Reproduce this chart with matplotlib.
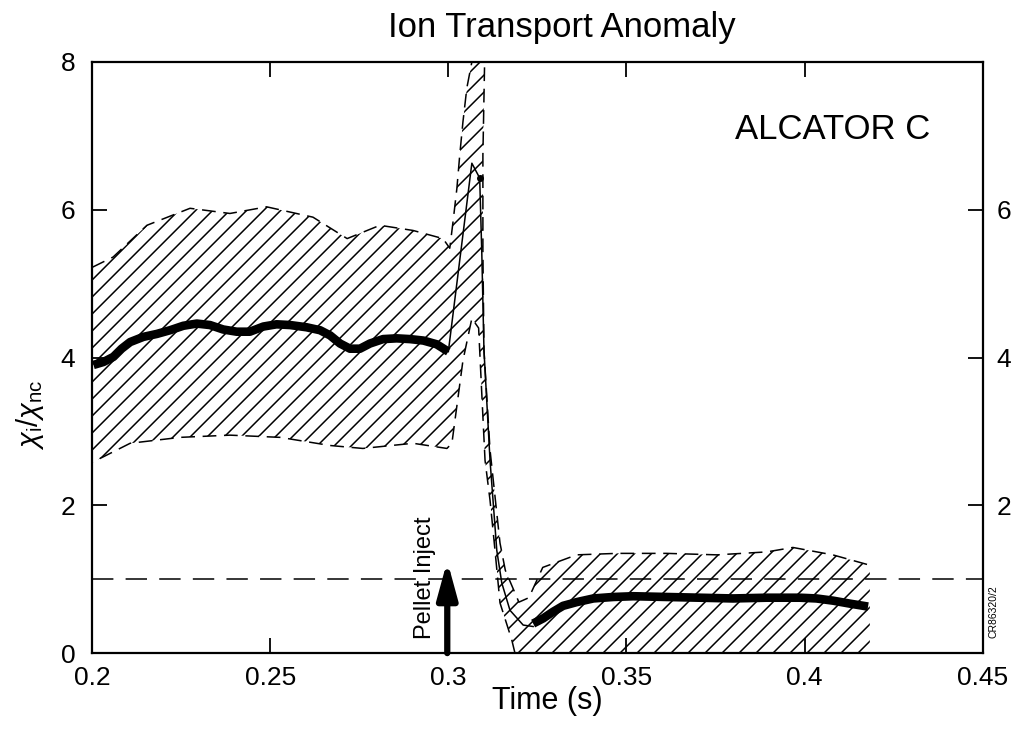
import matplotlib
matplotlib.use('Agg')
from matplotlib import pyplot as plt
from matplotlib.patches import Polygon
from matplotlib.collections import LineCollection
import numpy as np

plt.rcParams['font.family'] = ['Liberation Sans', 'DejaVu Sans']
plt.rcParams['mathtext.fontset'] = 'custom'
plt.rcParams['mathtext.rm'] = 'Liberation Sans'
plt.rcParams['mathtext.it'] = 'Liberation Sans:italic'

# thick curve before pellet
t_pre = [0.2004, 0.2032, 0.2060, 0.2083, 0.2107, 0.2144, 0.2182, 0.2219,
         0.2256, 0.2294, 0.2331, 0.2368, 0.2406, 0.2443, 0.2481, 0.2518,
         0.2556, 0.2602, 0.2640, 0.2668, 0.2696, 0.2724, 0.2752, 0.2780,
         0.2817, 0.2855, 0.2892, 0.2930, 0.2967, 0.3000]
chi_pre = [3.90, 3.94, 4.01, 4.12, 4.21, 4.28, 4.32, 4.37,
           4.43, 4.46, 4.44, 4.38, 4.35, 4.35, 4.42, 4.45,
           4.44, 4.41, 4.37, 4.30, 4.19, 4.12, 4.12, 4.19,
           4.25, 4.26, 4.25, 4.23, 4.18, 4.08]

# thin transient after pellet
t_spike = [0.3000, 0.3066, 0.3088, 0.3094, 0.31, 0.3117, 0.3136, 0.315,
           0.3173, 0.321, 0.3238]
chi_spike = [4.08, 6.63, 6.43, 5.4, 4.1, 2.61, 1.39, 0.95, 0.58, 0.38, 0.36]

# thick curve after pellet
t_post = [0.3238, 0.3266, 0.3294, 0.3322, 0.3360, 0.3407, 0.3463, 0.3519,
          0.3612, 0.3706, 0.3799, 0.3893, 0.3987, 0.4033, 0.4080, 0.4127,
          0.4178]
chi_post = [0.40, 0.47, 0.56, 0.64, 0.69, 0.74, 0.76, 0.77,
            0.76, 0.75, 0.74, 0.75, 0.75, 0.74, 0.71, 0.67,
            0.63]

# error band, outer edge (left to right)
band_top_t = [0.2, 0.2059, 0.2154, 0.2275, 0.2387, 0.249, 0.262, 0.2716,
              0.2808, 0.2901, 0.2985, 0.3004, 0.3013, 0.3024, 0.3032, 0.3041,
              0.3052, 0.3066, 0.3072, 0.3103, 0.3097, 0.3097, 0.31, 0.3117,
              0.3145, 0.316, 0.3198, 0.3226, 0.3265, 0.336, 0.3473, 0.3613,
              0.3754, 0.3894, 0.3967, 0.4079, 0.4183]
band_top = [5.22, 5.36, 5.79, 6.02, 5.95, 6.04, 5.90, 5.61,
            5.79, 5.72, 5.61, 5.48, 5.83, 6.29, 6.74, 7.19,
            7.65, 8.0, 8.3, 8.3, 6.74, 5.43, 4.1, 2.75,
            1.49, 1.12, 0.69, 0.75, 1.16, 1.33, 1.35, 1.35,
            1.33, 1.37, 1.43, 1.33, 1.19]

# error band, inner edge (right to left)
band_bot_t = [0.4183, 0.3187, 0.3178, 0.3145, 0.3131, 0.3117, 0.3103, 0.3094,
              0.3085, 0.3066, 0.3041, 0.301, 0.2996, 0.2901, 0.276, 0.2668,
              0.2528, 0.2387, 0.2247, 0.2107, 0.2]
band_bot = [0, 0, 0.18, 0.68, 1.39, 2.07, 2.61, 3.5,
            4.4, 4.53, 3.96, 2.84, 2.77, 2.84, 2.77, 2.81,
            2.92, 2.95, 2.92, 2.84, 2.58]

xticks = [0.2, 0.25, 0.3, 0.35, 0.4, 0.45]
xticklabels = ['0.2', '0.25', '0.3', '0.35', '0.4', '0.45']
yticks = [0, 2, 4, 6, 8]
yticks_right = [2, 4, 6]
t_pellet = 0.2997
neo_level = 1.0

fig = plt.figure(figsize=(10.25, 7.38), dpi=100)
ax = fig.add_axes([0.0898, 0.115, 0.869, 0.801])
ax.set_xlim(0.2, 0.45)
ax.set_ylim(0, 8)

# hatched band, drawn as 45 degree lines clipped to the band outline
band = Polygon(np.column_stack([band_top_t + band_bot_t, band_top + band_bot]),
               closed=True, facecolor='none', edgecolor='none')
ax.add_patch(band)
bb = ax.get_window_extent()
sx = bb.width / 0.25
sy = bb.height / 8.0
gap = 17.0 / sx
segs = []
for xc in np.arange(0.2 - 8.5 * sy / sx, 0.43, gap):
    segs.append([(xc, 0.0), (xc + 8.5 * sy / sx, 8.5)])
hatch = LineCollection(segs, colors='black', linewidths=1.1)
ax.add_collection(hatch)
hatch.set_clip_path(band)

ax.plot(band_top_t, band_top, color='black', lw=1.1, linestyle=(0, (9, 5)))
ax.plot(band_bot_t[1:], band_bot[1:], color='black', lw=1.1,
        linestyle=(0, (9, 5)))

# neoclassical level
ax.axhline(neo_level, color='black', lw=1.1, linestyle=(0, (14, 8)))

ax.plot(t_pre, chi_pre, color='black', lw=6.2, solid_capstyle='butt',
        solid_joinstyle='round')
ax.plot(t_spike, chi_spike, color='black', lw=1.1)
ax.plot([t_spike[2]], [chi_spike[2]], 'o', color='black', ms=4)
ax.plot(t_post, chi_post, color='black', lw=6.2, solid_capstyle='butt',
        solid_joinstyle='round')

# pellet arrow
ax.annotate('', xy=(t_pellet, 1.25), xytext=(t_pellet, 0),
            arrowprops=dict(arrowstyle='-|>,head_length=2.2,head_width=0.6',
                            lw=4.5, color='black', shrinkA=0, shrinkB=0))
ax.text(t_pellet - 0.0062, 1.02, 'Pellet Inject', rotation=90, ha='center',
        va='center', fontsize=17)

ax.text(0.722, 0.885, 'ALCATOR C', transform=ax.transAxes, fontsize=25,
        ha='left', va='center')

ax.set_xticks(xticks)
ax.set_xticklabels(xticklabels)
ax.set_yticks(yticks)
ax.tick_params(direction='in', length=11, width=1.3, top=True, right=False,
               labelsize=19)
ax.tick_params(axis='x', pad=9)
ax.tick_params(axis='y', pad=12)
for s in ax.spines.values():
    s.set_linewidth(1.6)

ax2 = ax.twinx()
ax2.set_ylim(0, 8)
ax2.set_yticks(yticks_right)
ax2.tick_params(direction='in', length=11, width=1.3, labelsize=19, pad=10)
for s in ax2.spines.values():
    s.set_visible(False)

fig.text(0.548, 0.985, 'Ion Transport Anomaly', ha='center', va='top',
         fontsize=25)
fig.text(547 / 1025, 1 - 701 / 738, 'Time (s)', ha='center', va='center',
         fontsize=22)
fig.text(0.029, 0.438, r'$\chi_{\rm i}/\chi_{\rm nc}$', rotation=90,
         ha='center', va='center', fontsize=21)
fig.text(0.969, 1 - 612 / 738, 'CR86320/2', rotation=90, ha='center',
         va='center', fontsize=7.5)

fig.savefig('out.png', dpi=100)
